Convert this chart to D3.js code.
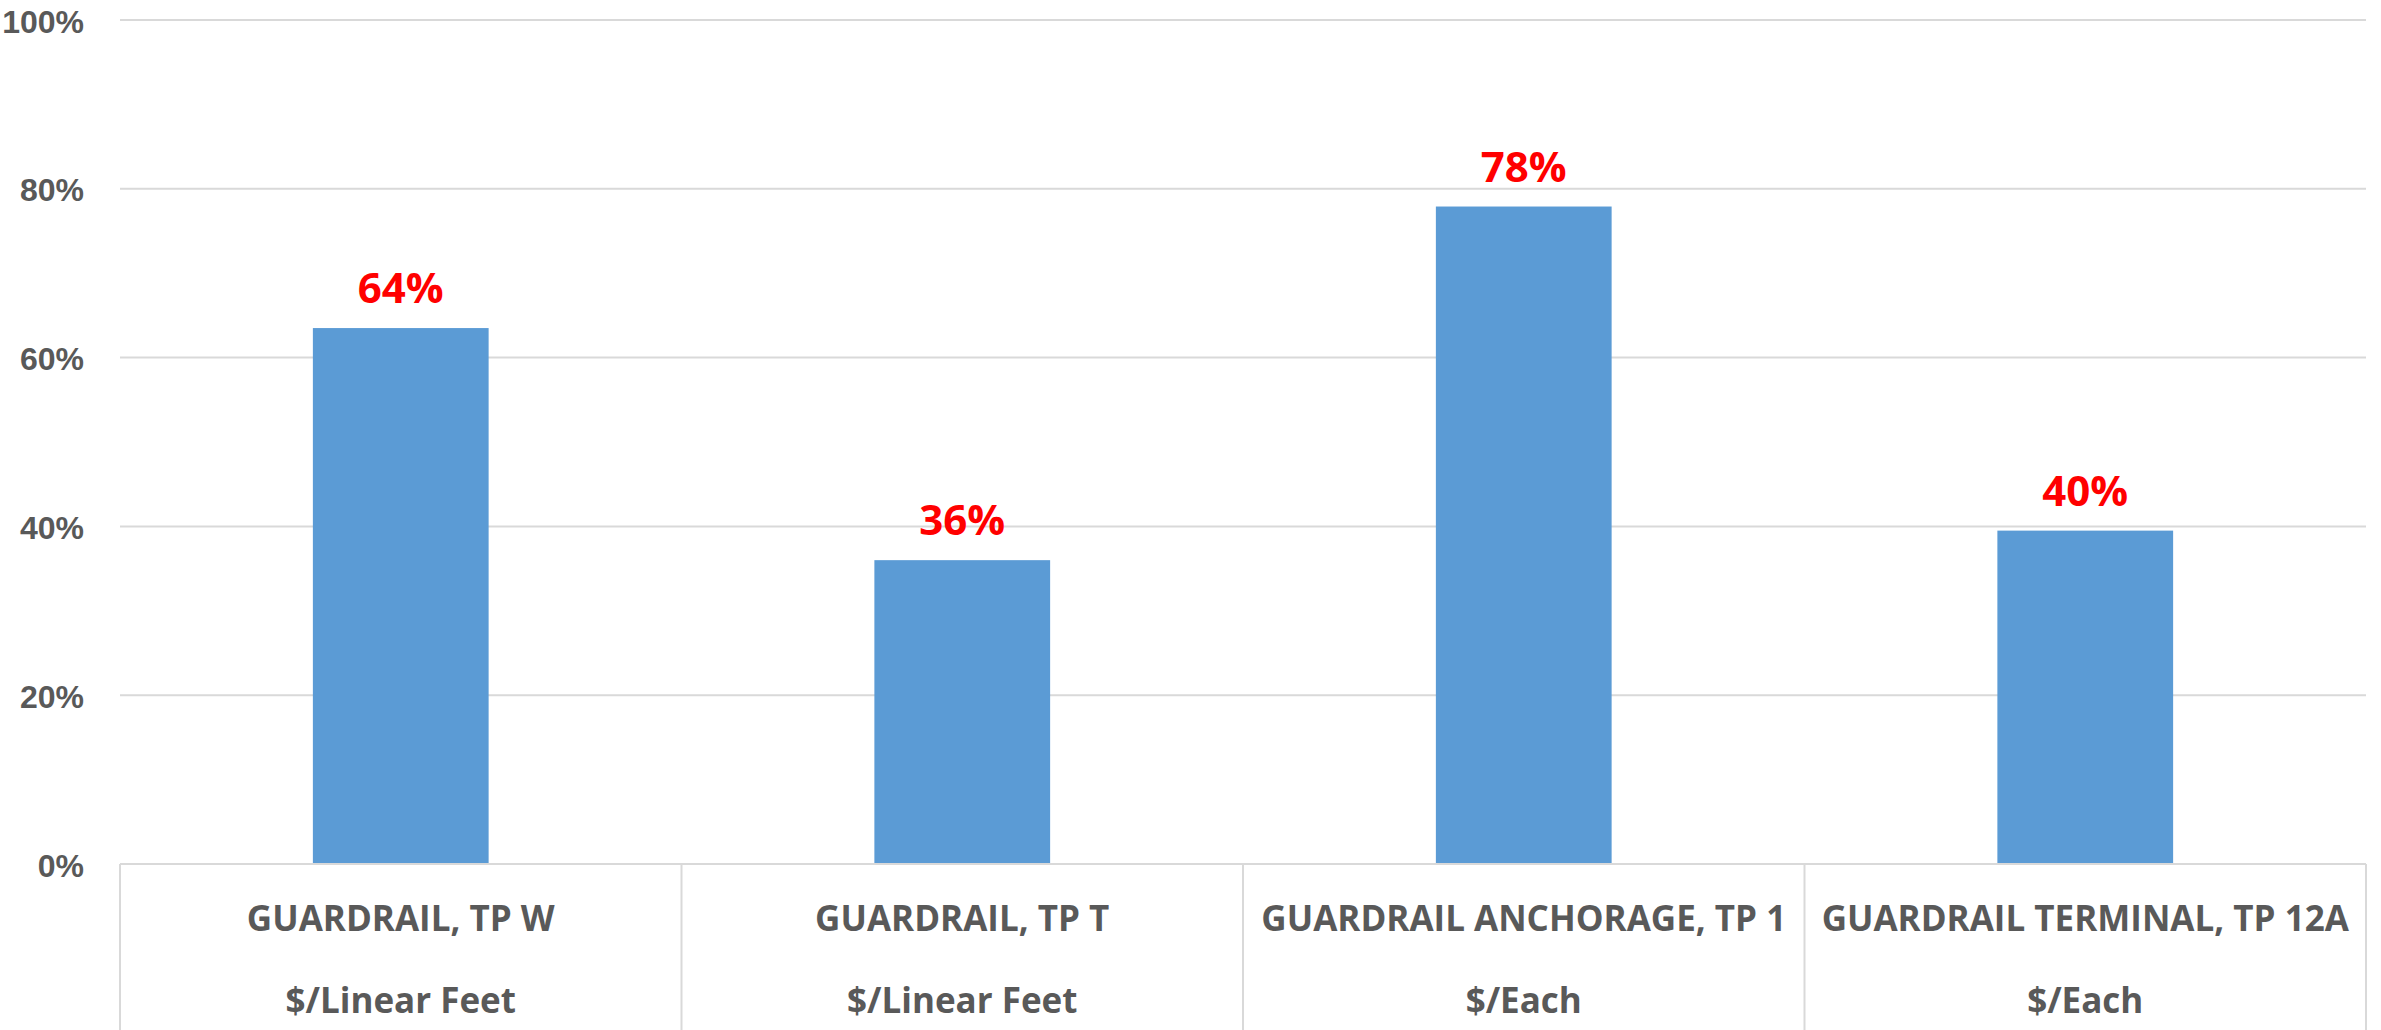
<!DOCTYPE html>
<html><head><meta charset="utf-8">
<script src="https://cdn.jsdelivr.net/npm/d3@7"></script>
<style>html,body{margin:0;padding:0;background:#fff;overflow:hidden}</style>
</head><body>
<svg id="chart" width="2381" height="1030"></svg>
<script>
const categories = ["GUARDRAIL, TP W","GUARDRAIL, TP T","GUARDRAIL ANCHORAGE, TP 1","GUARDRAIL TERMINAL, TP 12A"];
const units = ["$/Linear Feet","$/Linear Feet","$/Each","$/Each"];
const values = [0.635, 0.36, 0.779, 0.395];
const valueLabels = ["64%","36%","78%","40%"];
const yTicks = [0, 0.2, 0.4, 0.6, 0.8, 1.0];

const svg = d3.select("#chart");
const W = 2381, H = 1030;
const m = {left:120, right:15, top:20, bottom:166};
const x0 = m.left, x1 = W - m.right, y0 = H - m.bottom, y1 = m.top;

const x = d3.scaleBand().domain(categories).range([x0, x1]).padding(0);
const xb = d3.scaleBand().domain(categories).range([x0, x1]).paddingInner(0.687).paddingOuter(0.3435);
const y = d3.scaleLinear().domain([0, 1]).range([y0, y1]);

const grey = "#d9d9d9", txt = "#595959";
const font = "'Open Sans', 'DejaVu Sans', sans-serif";

// gridlines
svg.append("g").selectAll("line").data(yTicks.filter(d => d > 0)).join("line")
  .attr("x1", x0).attr("x2", x1)
  .attr("y1", d => y(d)).attr("y2", d => y(d))
  .attr("stroke", grey).attr("stroke-width", 2);

// y axis labels
const yAxis = d3.axisLeft(y).tickValues(yTicks).tickFormat(d3.format(".0%")).tickSize(0).tickPadding(36);
const gy = svg.append("g").attr("transform", `translate(${x0},0)`).call(yAxis);
gy.select(".domain").remove();
gy.selectAll("text").attr("fill", txt).attr("dy", null).attr("y", 12)
  .style("font-family", "'Liberation Sans', Arial, sans-serif").style("font-weight", 700).style("font-size", "32px");

// bars
svg.append("g").selectAll("rect").data(values).join("rect")
  .attr("x", (d, i) => xb(categories[i]))
  .attr("width", xb.bandwidth())
  .attr("y", d => y(d))
  .attr("height", d => y0 - y(d))
  .attr("fill", "#5b9bd5");

// value labels
svg.append("g").selectAll("text").data(values).join("text")
  .attr("x", (d, i) => x(categories[i]) + x.bandwidth() / 2)
  .attr("y", d => y(d) - 25)
  .attr("text-anchor", "middle")
  .attr("fill", "#ff0000")
  .style("font-family", font).style("font-weight", 700).style("font-size", "42px")
  .text((d, i) => valueLabels[i]);

// category axis boxes
svg.append("line").attr("x1", x0).attr("x2", x1).attr("y1", y0).attr("y2", y0)
  .attr("stroke", grey).attr("stroke-width", 2);
const bounds = categories.map(c => x(c)).concat([x1]);
svg.append("g").selectAll("line").data(bounds).join("line")
  .attr("x1", d => d).attr("x2", d => d).attr("y1", y0).attr("y2", H)
  .attr("stroke", grey).attr("stroke-width", 2);

const gc = svg.append("g");
gc.selectAll("text.cat").data(categories).join("text").attr("class", "cat")
  .attr("x", d => x(d) + x.bandwidth() / 2).attr("y", y0 + 55 + 12)
  .attr("text-anchor", "middle").attr("fill", txt)
  .style("font-family", font).style("font-weight", 700).style("font-size", "35px")
  .text(d => d);
gc.selectAll("text.unit").data(units).join("text").attr("class", "unit")
  .attr("x", (d, i) => x(categories[i]) + x.bandwidth() / 2).attr("y", y0 + 137 + 12)
  .attr("text-anchor", "middle").attr("fill", txt)
  .style("font-family", font).style("font-weight", 700).style("font-size", "35px")
  .text(d => d);
</script>
</body></html>
